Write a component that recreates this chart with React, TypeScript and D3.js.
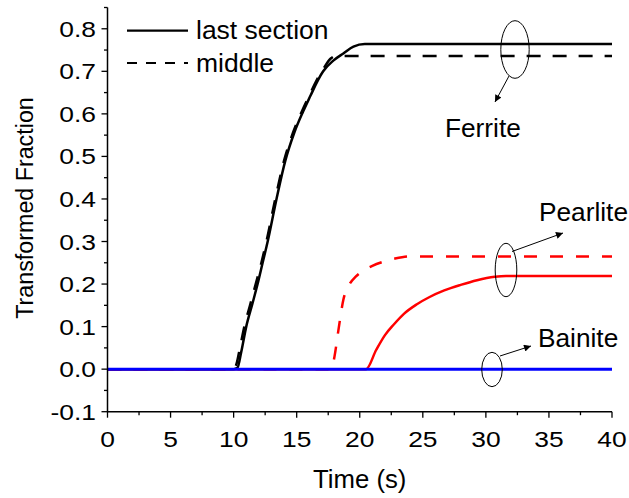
import React from "react";
import * as d3 from "d3";

// ---- data ----
const ferriteLastT = [0, 10, 10.3, 10.6, 11.0, 11.5, 11.9, 12.3, 12.7, 13.4, 14.1, 14.8, 15.5, 16.1, 16.7, 17.1, 17.9, 18.7, 19.5, 20.4, 40];
const ferriteLastV = [0, 0, 0.003, 0.04, 0.1, 0.155, 0.2, 0.25, 0.3, 0.4, 0.49, 0.555, 0.605, 0.643, 0.68, 0.7, 0.725, 0.742, 0.758, 0.764, 0.764];

const ferriteMidT = [0, 9.9, 10.2, 10.5, 10.85, 11.3, 11.75, 12.2, 12.6, 13.3, 14.0, 14.7, 15.4, 16.0, 16.6, 17.2, 17.7, 18.1, 40];
const ferriteMidV = [0, 0, 0.01, 0.05, 0.1, 0.15, 0.2, 0.25, 0.3, 0.4, 0.49, 0.555, 0.605, 0.643, 0.68, 0.71, 0.73, 0.736, 0.736];

const pearliteMidT = [0, 17.75, 18.0, 18.3, 18.7, 19.2, 19.7, 20.3, 21.0, 21.8, 22.8, 24.0, 40];
const pearliteMidV = [0, 0, 0.03, 0.09, 0.163, 0.2, 0.218, 0.232, 0.243, 0.252, 0.26, 0.265, 0.265];

const pearliteLastT = [0, 20.5, 21.3, 22.0, 22.7, 23.5, 24.5, 25.5, 26.7, 28.0, 29.3, 30.7, 31.6, 40];
const pearliteLastV = [0, 0, 0.045, 0.08, 0.105, 0.13, 0.152, 0.169, 0.185, 0.198, 0.209, 0.217, 0.219, 0.219];

const bainiteT = [0, 40];
const bainiteV = [0, 0];

const xTickValues = [0, 5, 10, 15, 20, 25, 30, 35, 40];
const xTickLabels = ["0", "5", "10", "15", "20", "25", "30", "35", "40"];
const yTickValues = [-0.1, 0, 0.1, 0.2, 0.3, 0.4, 0.5, 0.6, 0.7, 0.8];
const yTickLabels = ["-0.1", "0.0", "0.1", "0.2", "0.3", "0.4", "0.5", "0.6", "0.7", "0.8"];

const xTitle = "Time (s)";
const yTitle = "Transformed Fraction";
const legendLabels = ["last section", "middle"];
const phaseLabels = ["Ferrite", "Pearlite", "Bainite"];

const W = 629;
const H = 498;
const FONT = "'Liberation Sans', Arial, Helvetica, sans-serif";

const x = d3.scaleLinear().domain([0, 40]).range([107.5, 612]);
const y = d3.scaleLinear().domain([-0.1, 0.85]).range([411.7, 7.5]);

const zip = (t: number[], v: number[]) => t.map((tt, i) => [tt, v[i]] as [number, number]);
const lineGen = d3
  .line<[number, number]>()
  .x((d) => x(d[0]))
  .y((d) => y(d[1]))
  .curve(d3.curveMonotoneX);

function Txt({ px, py, sx = 1, size, anchor = "start", rotate = 0, children }: any) {
  return (
    <text
      transform={`translate(${px},${py}) rotate(${rotate}) scale(${sx},1)`}
      textAnchor={anchor}
      fontSize={size}
      fontFamily={FONT}
      fill="#000"
    >
      {children}
    </text>
  );
}

export default function App() {
  const xMinor = d3.range(0, 40.01, 2.5);
  const yMinor = d3.range(-0.1, 0.851, 0.05);
  const axisX0 = x(0);
  const axisY0 = y(-0.1);

  return (
    <svg
      width={W}
      height={H}
      style={{ position: "absolute", left: 0, top: 0, background: "#fff" }}
    >
      <defs>
        <marker id="ah" viewBox="0 0 10 10" refX="10" refY="5" markerWidth="11" markerHeight="7" markerUnits="userSpaceOnUse" orient="auto">
          <path d="M0,0 L10,5 L0,10 z" fill="#000" />
        </marker>
      </defs>
      <rect x={0} y={0} width={W} height={H} fill="#fff" />

      {/* data lines */}
      <path d={lineGen(zip(ferriteLastT, ferriteLastV)) || ""} fill="none" stroke="#000" strokeWidth={2.5} />
      <path d={lineGen(zip(ferriteMidT, ferriteMidV)) || ""} fill="none" stroke="#000" strokeWidth={2.5} strokeDasharray="14 12" />
      <path d={lineGen(zip(pearliteLastT, pearliteLastV)) || ""} fill="none" stroke="#ff0000" strokeWidth={2.5} />
      <path d={lineGen(zip(pearliteMidT, pearliteMidV)) || ""} fill="none" stroke="#ff0000" strokeWidth={2.5} strokeDasharray="13 13" />
      <path d={lineGen(zip(bainiteT, bainiteV)) || ""} fill="none" stroke="#0000ff" strokeWidth={3} />

      {/* axes */}
      <line x1={axisX0} x2={axisX0} y1={y(0.85)} y2={axisY0 + 0.5} stroke="#000" strokeWidth={1.5} />
      <line x1={axisX0 - 0.5} x2={x(40)} y1={axisY0} y2={axisY0} stroke="#000" strokeWidth={1.5} />
      {xMinor.map((v, i) => (
        <line key={"xm" + i} x1={x(v)} x2={x(v)} y1={axisY0} y2={axisY0 + (i % 2 === 0 ? 6 : 3.5)} stroke="#000" strokeWidth={1.3} />
      ))}
      {yMinor.map((v, i) => (
        <line key={"ym" + i} x1={axisX0} x2={axisX0 - (i % 2 === 0 ? 6 : 3.5)} y1={y(v)} y2={y(v)} stroke="#000" strokeWidth={1.3} />
      ))}
      {xTickValues.map((v, i) => (
        <Txt key={"xl" + i} px={x(v)} py={447} sx={1.2} size={22} anchor="middle">
          {xTickLabels[i]}
        </Txt>
      ))}
      {yTickValues.map((v, i) => (
        <Txt key={"yl" + i} px={96} py={y(v) + 8} sx={1.2} size={22} anchor="end">
          {yTickLabels[i]}
        </Txt>
      ))}
      <Txt px={(x(0) + x(40)) / 2} py={488} sx={1.03} size={25} anchor="middle">
        {xTitle}
      </Txt>
      <Txt px={33} py={208} sx={0.97} size={24} anchor="middle" rotate={-90}>
        {yTitle}
      </Txt>

      {/* legend */}
      <line x1={127} x2={188} y1={30.7} y2={30.7} stroke="#000" strokeWidth={2.2} />
      <line x1={127} x2={188} y1={63} y2={63} stroke="#000" strokeWidth={2.2} strokeDasharray="10 9" />
      <Txt px={196} py={38.5} sx={1.06} size={25}>
        {legendLabels[0]}
      </Txt>
      <Txt px={196} py={71.5} sx={1.06} size={25}>
        {legendLabels[1]}
      </Txt>

      {/* annotations */}
      <ellipse cx={515} cy={49.5} rx={14.2} ry={28.8} fill="none" stroke="#000" strokeWidth={1} />
      <line x1={509} y1={76} x2={495} y2={102} stroke="#000" strokeWidth={1} markerEnd="url(#ah)" />
      <Txt px={445} py={137} sx={1.05} size={25}>
        {phaseLabels[0]}
      </Txt>

      <ellipse cx={506} cy={270} rx={10.8} ry={26.7} fill="none" stroke="#000" strokeWidth={1} />
      <line x1={512} y1={251.5} x2={563} y2={233} stroke="#000" strokeWidth={1} markerEnd="url(#ah)" />
      <Txt px={539} py={221} sx={1.05} size={25}>
        {phaseLabels[1]}
      </Txt>

      <ellipse cx={492} cy={369.5} rx={10.3} ry={17.2} fill="none" stroke="#000" strokeWidth={1} />
      <line x1={500} y1={356} x2={531} y2={346} stroke="#000" strokeWidth={1} markerEnd="url(#ah)" />
      <Txt px={538} py={347} sx={1.05} size={25}>
        {phaseLabels[2]}
      </Txt>
    </svg>
  );
}
